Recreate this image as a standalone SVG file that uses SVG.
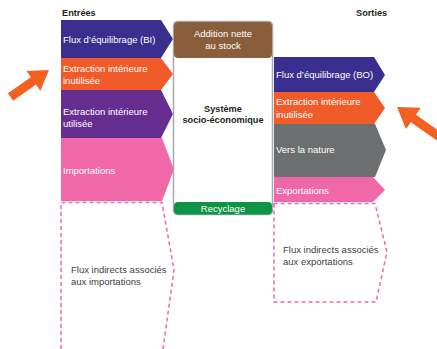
<svg xmlns="http://www.w3.org/2000/svg" width="437" height="349" viewBox="0 0 437 349">
  <style>
    text { font-family: "Liberation Sans", Arial, sans-serif; font-size: 9.5px; }
    .w { fill: #ffffff; }
    .d { fill: #414042; }
    .h { fill: #231f20; font-weight: bold; font-size: 9.2px; }
    .mid { text-anchor: middle; }
    .dash { fill: none; stroke: #f06aa7; stroke-width: 1.5; stroke-dasharray: 4 3; }
    .pointer { fill: #f26122; }
  </style>
  <rect width="437" height="349" fill="#ffffff"/>

  <!-- column headings -->
  <text class="h" x="62" y="16">Entrées</text>
  <text class="h" x="356" y="16">Sorties</text>

  <!-- inputs -->
  <g id="in-bi">
    <polygon points="61,20 161,20 173,39 161,58 61,58" fill="#3a2e8e"/>
    <text class="w" x="63" y="43">Flux d’équilibrage (BI)</text>
  </g>
  <g id="in-unused">
    <polygon points="61,58 161,58 173,74 161,90 61,90" fill="#f15a29"/>
    <text class="w" x="63" y="72">Extraction intérieure</text>
    <text class="w" x="63" y="84">inutilisée</text>
  </g>
  <g id="in-used">
    <polygon points="61,90 161,90 173,114 161,138 61,138" fill="#662d91"/>
    <text class="w" x="63" y="115">Extraction intérieure</text>
    <text class="w" x="63" y="127">utilisée</text>
  </g>
  <g id="in-imports">
    <polygon points="61,138 162,138 174,169.5 162,201 61,201" fill="#f068a8"/>
    <text class="w" x="63" y="174">Importations</text>
  </g>
  <g id="in-indirect">
    <path class="dash" d="M61,349 V202.5 H162 L174,270 L163,349"/>
    <text class="d" x="71" y="273">Flux indirects associés</text>
    <text class="d" x="71" y="285">aux importations</text>
  </g>

  <!-- socio-economic system -->
  <g id="system">
    <rect x="173.5" y="21.5" width="99" height="193" rx="4" fill="#ffffff" stroke="#a7a9ac" stroke-width="1.5"/>
    <text class="h mid" x="223" y="112">Système</text>
    <text class="h mid" x="223" y="123">socio-économique</text>
  </g>
  <g id="stock">
    <rect x="174" y="22" width="98" height="36" rx="4" fill="#8a5d3b"/>
    <text class="w mid" x="223" y="37">Addition nette</text>
    <text class="w mid" x="223" y="49">au stock</text>
  </g>
  <g id="recycling">
    <rect x="174" y="202" width="98" height="12.5" rx="4" fill="#0e9447"/>
    <text class="w mid" x="223" y="211.5">Recyclage</text>
  </g>

  <!-- outputs -->
  <g id="out-bo">
    <polygon points="274,57 374,57 385,75 374,92 274,92" fill="#3a2e8e"/>
    <text class="w" x="276" y="78">Flux d’équilibrage (BO)</text>
  </g>
  <g id="out-unused">
    <polygon points="274,92 374,92 385,108 374,124 274,124" fill="#f15a29"/>
    <text class="w" x="276" y="105">Extraction intérieure</text>
    <text class="w" x="276" y="118">inutilisée</text>
  </g>
  <g id="out-nature">
    <polygon points="274,124 375,124 386,150 375,177 274,177" fill="#6d6e70"/>
    <text class="w" x="276" y="153">Vers la nature</text>
  </g>
  <g id="out-exports">
    <polygon points="274,177 373,177 385,190 373,202 274,202" fill="#f068a8"/>
    <text class="w" x="276" y="194">Exportations</text>
  </g>
  <g id="out-indirect">
    <path class="dash" d="M274,203.5 V302 H376 L387,252 L375,203.5 Z"/>
    <text class="d" x="283" y="253">Flux indirects associés</text>
    <text class="d" x="283" y="265">aux exportations</text>
  </g>

  <!-- highlight pointers -->
  <g id="connectors">
    <polygon class="pointer" transform="translate(49,70) rotate(-35)" points="0,0 -19,-12 -19,-4.5 -47,-4.5 -47,4.5 -19,4.5 -19,12"/>
    <polygon class="pointer" transform="translate(397,107) rotate(215)" points="0,0 -20,-13 -20,-4.5 -60,-4.5 -60,4.5 -20,4.5 -20,13"/>
  </g>
</svg>
